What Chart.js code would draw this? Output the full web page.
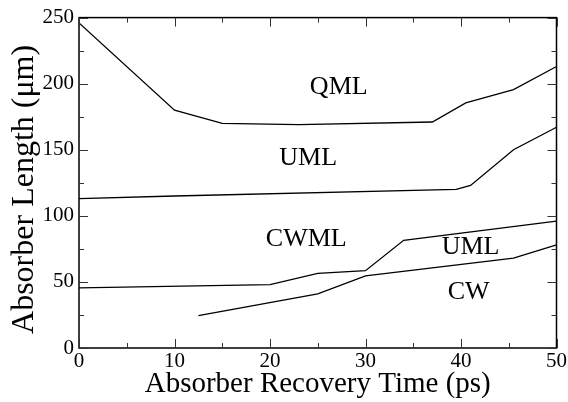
<!DOCTYPE html>
<html>
<head>
<meta charset="utf-8">
<script src="https://cdn.jsdelivr.net/npm/chart.js"></script>
<style>
  html, body { margin: 0; padding: 0; background: #fff; }
  #wrap { width: 568px; height: 402px; }
</style>
</head>
<body>
<div id="wrap"><canvas id="phase"></canvas></div>
<script>
// boundary curves between operating regimes
const qmlTime = [0, 10, 15, 23, 37, 40.5, 45.5, 50]
const qmlLength = [246, 180, 170, 169, 171, 185.5, 195.5, 213]

const umlTime = [0, 10, 39.5, 41, 45.5, 50]
const umlLength = [113, 115, 120, 123, 150, 167]

const cwmlTime = [0, 20, 25, 30, 34, 50]
const cwmlLength = [45.5, 48, 56.5, 58.5, 81.5, 96]

const cwTime = [12.5, 25, 30, 45.5, 50]
const cwLength = [24.5, 41, 54.5, 68, 78]

// region names and where they sit (time, length)
const regionNames = ["QML", "UML", "CWML", "UML", "CW"]
const regionTime = [27.2, 24.0, 23.8, 41.0, 40.8]
const regionLength = [197.5, 143.5, 82, 76, 42]

const serif = "'Liberation Serif', 'DejaVu Serif', serif"
const yTitle = "Absorber Length (μm)"

const toPoints = (xs, ys) => xs.map((x, i) => ({ x: x, y: ys[i] }))

const curve = (xs, ys) => ({
  data: toPoints(xs, ys),
  borderColor: "#000",
  borderWidth: 1.3,
  pointRadius: 0,
  tension: 0,
  fill: false,
})

const frameAndLabels = {
  id: "frameAndLabels",
  afterDraw(chart) {
    const { ctx, chartArea: a, scales } = chart
    const xs = scales.x
    const ys = scales.y
    ctx.save()
    ctx.strokeStyle = "#000"
    ctx.lineWidth = 1.5
    ctx.strokeRect(a.left, a.top, a.right - a.left, a.bottom - a.top)

    // inward ticks on all four sides
    ctx.lineWidth = 1
    ctx.strokeStyle = "#333"
    ctx.beginPath()
    for (let t = 0; t <= 50; t += 5) {
      const px = Math.round(xs.getPixelForValue(t)) + 0.5
      const len = t % 10 === 0 ? 9 : 5
      ctx.moveTo(px, a.bottom)
      ctx.lineTo(px, a.bottom - len)
      ctx.moveTo(px, a.top)
      ctx.lineTo(px, a.top + len)
    }
    for (let v = 0; v <= 250; v += 25) {
      const py = Math.round(ys.getPixelForValue(v)) + 0.5
      const len = v % 50 === 0 ? 9 : 5
      ctx.moveTo(a.left, py)
      ctx.lineTo(a.left + len, py)
      ctx.moveTo(a.right, py)
      ctx.lineTo(a.right - len, py)
    }
    ctx.stroke()

    ctx.fillStyle = "#000"
    ctx.font = "26px " + serif
    ctx.textAlign = "center"
    ctx.textBaseline = "middle"
    regionNames.forEach((name, i) => {
      ctx.fillText(name, xs.getPixelForValue(regionTime[i]), ys.getPixelForValue(regionLength[i]))
    })

    // vertical axis title, sitting a little below the middle of the axis
    ctx.font = "32px " + serif
    ctx.textBaseline = "alphabetic"
    ctx.translate(33, ys.getPixelForValue(120))
    ctx.rotate(-Math.PI / 2)
    ctx.fillText(yTitle, 0, 0)
    ctx.restore()
  },
}

new Chart(document.getElementById("phase"), {
  type: "line",
  data: {
    datasets: [
      curve(qmlTime, qmlLength),
      curve(umlTime, umlLength),
      curve(cwmlTime, cwmlLength),
      curve(cwTime, cwLength),
    ],
  },
  options: {
    responsive: true,
    maintainAspectRatio: false,
    animation: false,
    layout: { padding: { top: 13, right: 11, left: 0, bottom: 0 } },
    plugins: {
      legend: { display: false },
      tooltip: { enabled: false },
    },
    scales: {
      x: {
        type: "linear",
        min: 0,
        max: 50,
        grid: { display: false, drawTicks: false },
        border: { display: false },
        ticks: {
          stepSize: 10,
          color: "#000",
          padding: 1,
          maxRotation: 0,
          font: { family: serif, size: 21 },
        },
        title: {
          display: true,
          text: "Absorber Recovery Time (ps)",
          color: "#000",
          padding: { top: 0, bottom: 0 },
          font: { family: serif, size: 29 },
        },
        afterFit(s) { s.height = 54 },
      },
      y: {
        type: "linear",
        min: 0,
        max: 250,
        grid: { display: false, drawTicks: false },
        border: { display: false },
        ticks: {
          stepSize: 50,
          color: "#000",
          padding: 5,
          font: { family: serif, size: 21 },
        },
        afterFit(s) { s.width = 79 },
      },
    },
  },
  plugins: [frameAndLabels],
})
</script>
</body>
</html>
